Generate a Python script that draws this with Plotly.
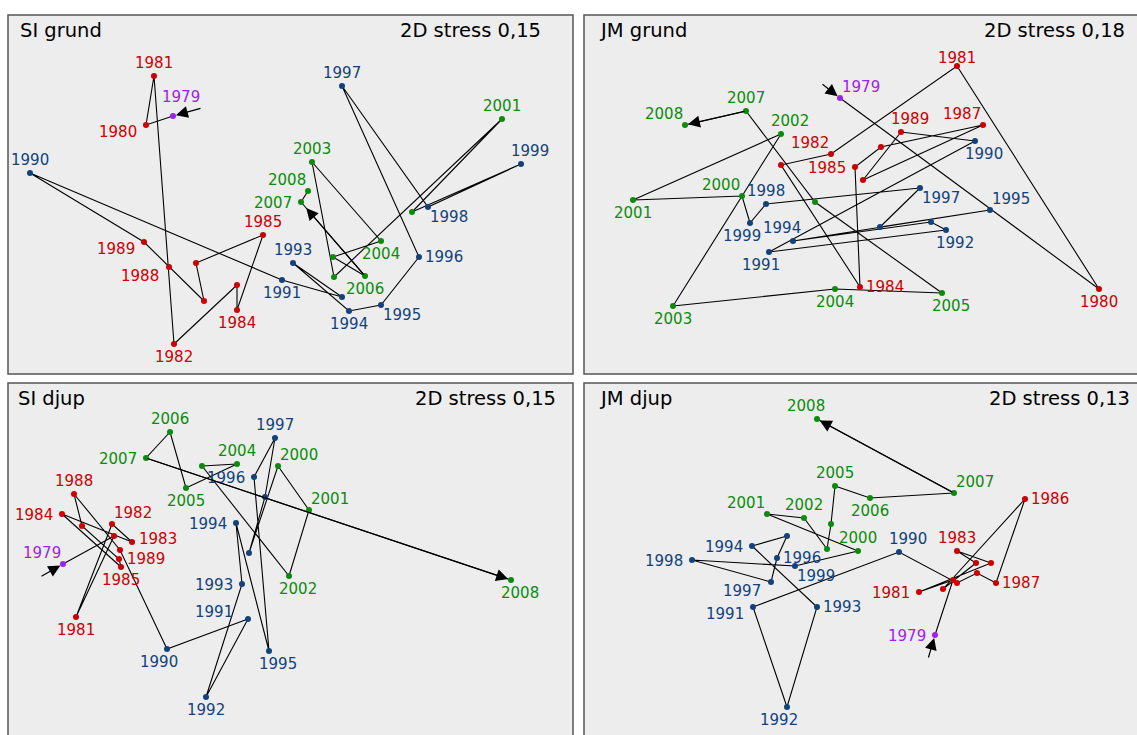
import plotly.graph_objects as go

# ---------------------------------------------------------------
# MDS ordinations of yearly samples, four station/depth series
# ---------------------------------------------------------------
years = list(range(1979, 2009))

si_grund_x = [-1.17, -1.44, -1.36, -1.16, -0.53, -0.53, -0.27, -0.94, -0.86, -1.21,
              -1.46, -2.60, -0.08, 0.52, 0.03, 0.59, 0.91, 1.29, 0.52, 1.38,
              2.31, 1.22, 2.12, 0.44, 0.22, 0.91, 0.43, 0.75, 0.11, 0.18]
si_grund_y = [0.79, 0.70, 1.19, -1.49, -0.90, -1.15, -0.40, -0.68, -1.06, -0.72,
              -0.47, 0.22, -0.85, -1.02, -0.68, -1.16, -1.10, -0.62, 1.09, -0.12,
              0.31, -0.17, 0.76, -0.82, 0.33, -0.46, -0.62, -0.81, -0.07, 0.04]

jm_grund_x = [-0.26, 2.33, 0.91, -0.35, -0.85, -0.06, -0.11, 0.15, 1.17, -0.03,
              0.35, 1.09, -0.97, 0.80, 0.65, -0.73, 1.24, 0.14, 0.54, -1.00,
              -1.16, -1.24, -2.33, -0.85, -1.93, -0.31, 0.76, -0.51, -1.20, -1.81]
jm_grund_y = [0.97, -0.94, 1.29, 0.41, 0.30, -0.92, 0.28, 0.48, 0.70, 0.15,
              0.63, 0.54, -0.57, -0.35, -0.27, -0.46, -0.15, -0.32, 0.07, -0.09,
              -0.28, -0.01, -0.05, 0.61, -1.11, -0.94, -0.98, -0.07, 0.84, 0.70]

si_djup_x = [-2.27, -1.76, -2.14, -1.78, -1.58, -2.28, -1.69, -1.71, -2.08, -2.16,
             -1.70, -1.23, -0.42, -0.84, -0.48, -0.54, -0.21, -0.36, -0.15, -0.25,
             -0.41, -0.12, 0.19, -0.01, -0.88, -0.53, -1.04, -1.20, -1.44, 2.21]
si_djup_y = [-0.01, 0.27, -0.54, 0.39, 0.21, 0.49, -0.04, 0.04, 0.37, 0.69,
             0.13, -0.86, -0.56, -1.34, -0.21, 0.40, -0.88, 0.86, 1.25, 0.66,
             0.10, 0.97, 0.53, -0.13, 0.97, 0.99, 0.75, 1.31, 1.05, -0.17]

jm_djup_x = [0.69, 0.87, 0.53, 1.25, 0.91, 1.10, 0.77, 1.59, 1.30, 1.11,
             0.91, 0.33, -1.13, -0.79, -0.49, -1.14, -0.79, -0.89, -0.95, -1.74,
             -0.71, -0.08, -0.99, -0.62, -0.39, -0.35, -0.31, 0.04, 0.88, -0.49]
jm_djup_y = [-0.72, -0.17, -0.29, 0.00, 0.12, 0.00, -0.26, 0.64, -0.20, -0.10,
             -0.20, 0.11, -0.44, -1.44, -0.44, 0.17, 0.27, 0.05, -0.19, 0.03,
             -0.03, 0.12, 0.49, 0.45, 0.14, 0.39, 0.77, 0.65, 0.70, 1.44]

panel_names = ["SI grund", "JM grund", "SI djup", "JM djup"]
stress_labels = ["2D stress 0,15", "2D stress 0,18", "2D stress 0,15", "2D stress 0,13"]

# label placement per year ('' = year not labelled)
si_grund_pos = ["TT", "L2", "T", "B", "", "B", "T", "", "", "BL",
                "L2", "T", "B", "", "T", "B", "BR", "R", "T", "BR",
                "T+", "", "T", "", "T", "B", "", "B", "L", "TL"]
jm_grund_pos = ["TR", "B", "Tc", "TL", "", "R", "L", "", "TL", "",
                "T+", "B+", "B-", "B+", "", "T-", "TR", "", "BR", "T",
                "B-", "TL", "B", "T+", "B", "B", "B+", "", "T", "TL"]
si_djup_pos = ["TL", "", "B", "TR", "RU", "L", "B", "", "", "T",
               "R2", "B-", "LU", "B", "L", "L", "B+", "L", "T", "",
               "", "TR", "TR", "B+", "", "T", "B", "T", "L", "B+"]
jm_djup_pos = ["L", "", "L", "", "T", "", "", "R", "R", "",
               "", "T+", "L2", "B-", "R", "L", "", "R", "BL", "L",
               "BR", "T", "TL", "T", "", "", "T", "B", "TR", "T-"]

# ---------------------------------------------------------------
# styling
# ---------------------------------------------------------------
W, H = 1137, 735
FONT = "DejaVu Sans"
# code -> (xanchor, xshift px, yshift px)
LAB = {
    "T": ("center", 0, 13), "T+": ("center", 9, 13), "T-": ("center", -11, 13),
    "TT": ("center", 8, 19), "Tc": ("center", 0, 8),
    "B": ("center", 0, -13), "B+": ("center", 9, -13), "B-": ("center", -8, -13),
    "L": ("right", -7, -1), "L2": ("right", -7, -7), "LU": ("right", -13, 7),
    "R": ("left", 4, 0), "R2": ("left", 5, -9), "RU": ("left", 5, 3),
    "TL": ("right", 0, 11), "TR": ("left", 0, 11),
    "BL": ("right", -8, -9), "BR": ("left", 0, -10),
}
GROUPS = [  # (first year, last year, colour)
    (1979, 1979, "#a020f0"),
    (1980, 1989, "#cc0000"),
    (1990, 1999, "#11427c"),
    (2000, 2008, "#0a8c0a"),
]


def year_colour(yr):
    for y0, y1, col in GROUPS:
        if y0 <= yr <= y1:
            return col
    return "black"


# panel frames in pixels: left, top, right, bottom, and origin of the ordination
frames = [
    (8, 15, 573, 374, 290, 195),
    (584, 15, 1149, 374, 866, 195),
    (8, 383, 573, 742, 290, 563),
    (584, 383, 1149, 742, 866, 563),
]
PX_PER_UNIT = 100.0
title_left = [18, 597, 16, 597]
stress_left = [398, 982, 413, 987]
title_mid = [30, 30, 399, 399]

# arrow at the start of each series (tail point) and segment carrying the end arrow
start_tail = [(-0.88, 0.87), (-0.45, 1.12), (-2.50, -0.14), (0.62, -0.96)]
end_seg = [(27, 28), (28, 29), (28, 29), (28, 29)]

series = [
    (si_grund_x, si_grund_y, si_grund_pos),
    (jm_grund_x, jm_grund_y, jm_grund_pos),
    (si_djup_x, si_djup_y, si_djup_pos),
    (jm_djup_x, jm_djup_y, jm_djup_pos),
]

fig = go.Figure()
layout_axes = {}
annotations = []
shapes = []

for k, ((xs, ys, pos), frame) in enumerate(zip(series, frames)):
    left, top, right, bottom, cx, cy = frame
    r_vis = min(right, W)
    b_vis = min(bottom, H)
    sfx = "" if k == 0 else str(k + 1)
    xa, ya = "x" + sfx, "y" + sfx

    layout_axes["xaxis" + sfx] = dict(
        domain=[left / W, r_vis / W],
        range=[(left - cx) / PX_PER_UNIT, (r_vis - cx) / PX_PER_UNIT],
        visible=False, fixedrange=True, anchor=ya,
    )
    layout_axes["yaxis" + sfx] = dict(
        domain=[1 - b_vis / H, 1 - top / H],
        range=[(cy - b_vis) / PX_PER_UNIT, (cy - top) / PX_PER_UNIT],
        visible=False, fixedrange=True, anchor=xa,
    )

    # trajectory line
    fig.add_trace(go.Scatter(
        x=xs, y=ys, mode="lines", xaxis=xa, yaxis=ya,
        line=dict(color="black", width=1.1), hoverinfo="skip", showlegend=False,
    ))

    # points by period colour
    for y0, y1, col in GROUPS:
        idx = [i for i, yr in enumerate(years) if y0 <= yr <= y1]
        fig.add_trace(go.Scatter(
            x=[xs[i] for i in idx], y=[ys[i] for i in idx],
            mode="markers", xaxis=xa, yaxis=ya,
            marker=dict(color=col, size=6),
            text=[str(years[i]) for i in idx], hoverinfo="text",
            cliponaxis=False, showlegend=False,
        ))

    # year labels
    for i, yr in enumerate(years):
        code = pos[i]
        if not code:
            continue
        xanc, dx, dy = LAB[code]
        annotations.append(dict(
            text=str(yr), x=xs[i], y=ys[i], xref=xa, yref=ya,
            xanchor=xanc, yanchor="middle", xshift=dx, yshift=dy,
            showarrow=False, font=dict(family=FONT, size=15, color=year_colour(yr)),
        ))

    # start arrow into the first year
    tx, ty = start_tail[k]
    annotations.append(dict(
        x=xs[0], y=ys[0], ax=tx, ay=ty, xref=xa, yref=ya, axref=xa, ayref=ya,
        showarrow=True, arrowhead=2, arrowsize=2.0, arrowwidth=1.2,
        arrowcolor="black", standoff=3, text="",
    ))
    # end arrow
    a, b = end_seg[k]
    annotations.append(dict(
        x=xs[b], y=ys[b], ax=xs[a], ay=ys[a], xref=xa, yref=ya, axref=xa, ayref=ya,
        showarrow=True, arrowhead=2, arrowsize=2.0, arrowwidth=1.2,
        arrowcolor="black", standoff=3 if k else 8, text="",
    ))

    # panel titles
    annotations.append(dict(
        text=panel_names[k], xref="paper", yref="paper",
        x=title_left[k] / W, y=1 - title_mid[k] / H, xanchor="left", yanchor="middle",
        showarrow=False, font=dict(family=FONT, size=19.5, color="black"),
    ))
    annotations.append(dict(
        text=stress_labels[k], xref="paper", yref="paper",
        x=stress_left[k] / W, y=1 - title_mid[k] / H, xanchor="left", yanchor="middle",
        showarrow=False, font=dict(family=FONT, size=19.5, color="black"),
    ))

    # panel frame
    shapes.append(dict(
        type="rect", xref="paper", yref="paper", layer="above",
        x0=left / W, x1=right / W, y0=1 - bottom / H, y1=1 - top / H,
        line=dict(color="#555555", width=1.5), fillcolor="rgba(0,0,0,0)",
    ))

fig.update_layout(
    width=W, height=H,
    margin=dict(l=0, r=0, t=0, b=0),
    paper_bgcolor="white", plot_bgcolor="#ededed",
    font=dict(family=FONT),
    annotations=annotations, shapes=shapes,
    **layout_axes,
)

fig.write_html("out.html")
